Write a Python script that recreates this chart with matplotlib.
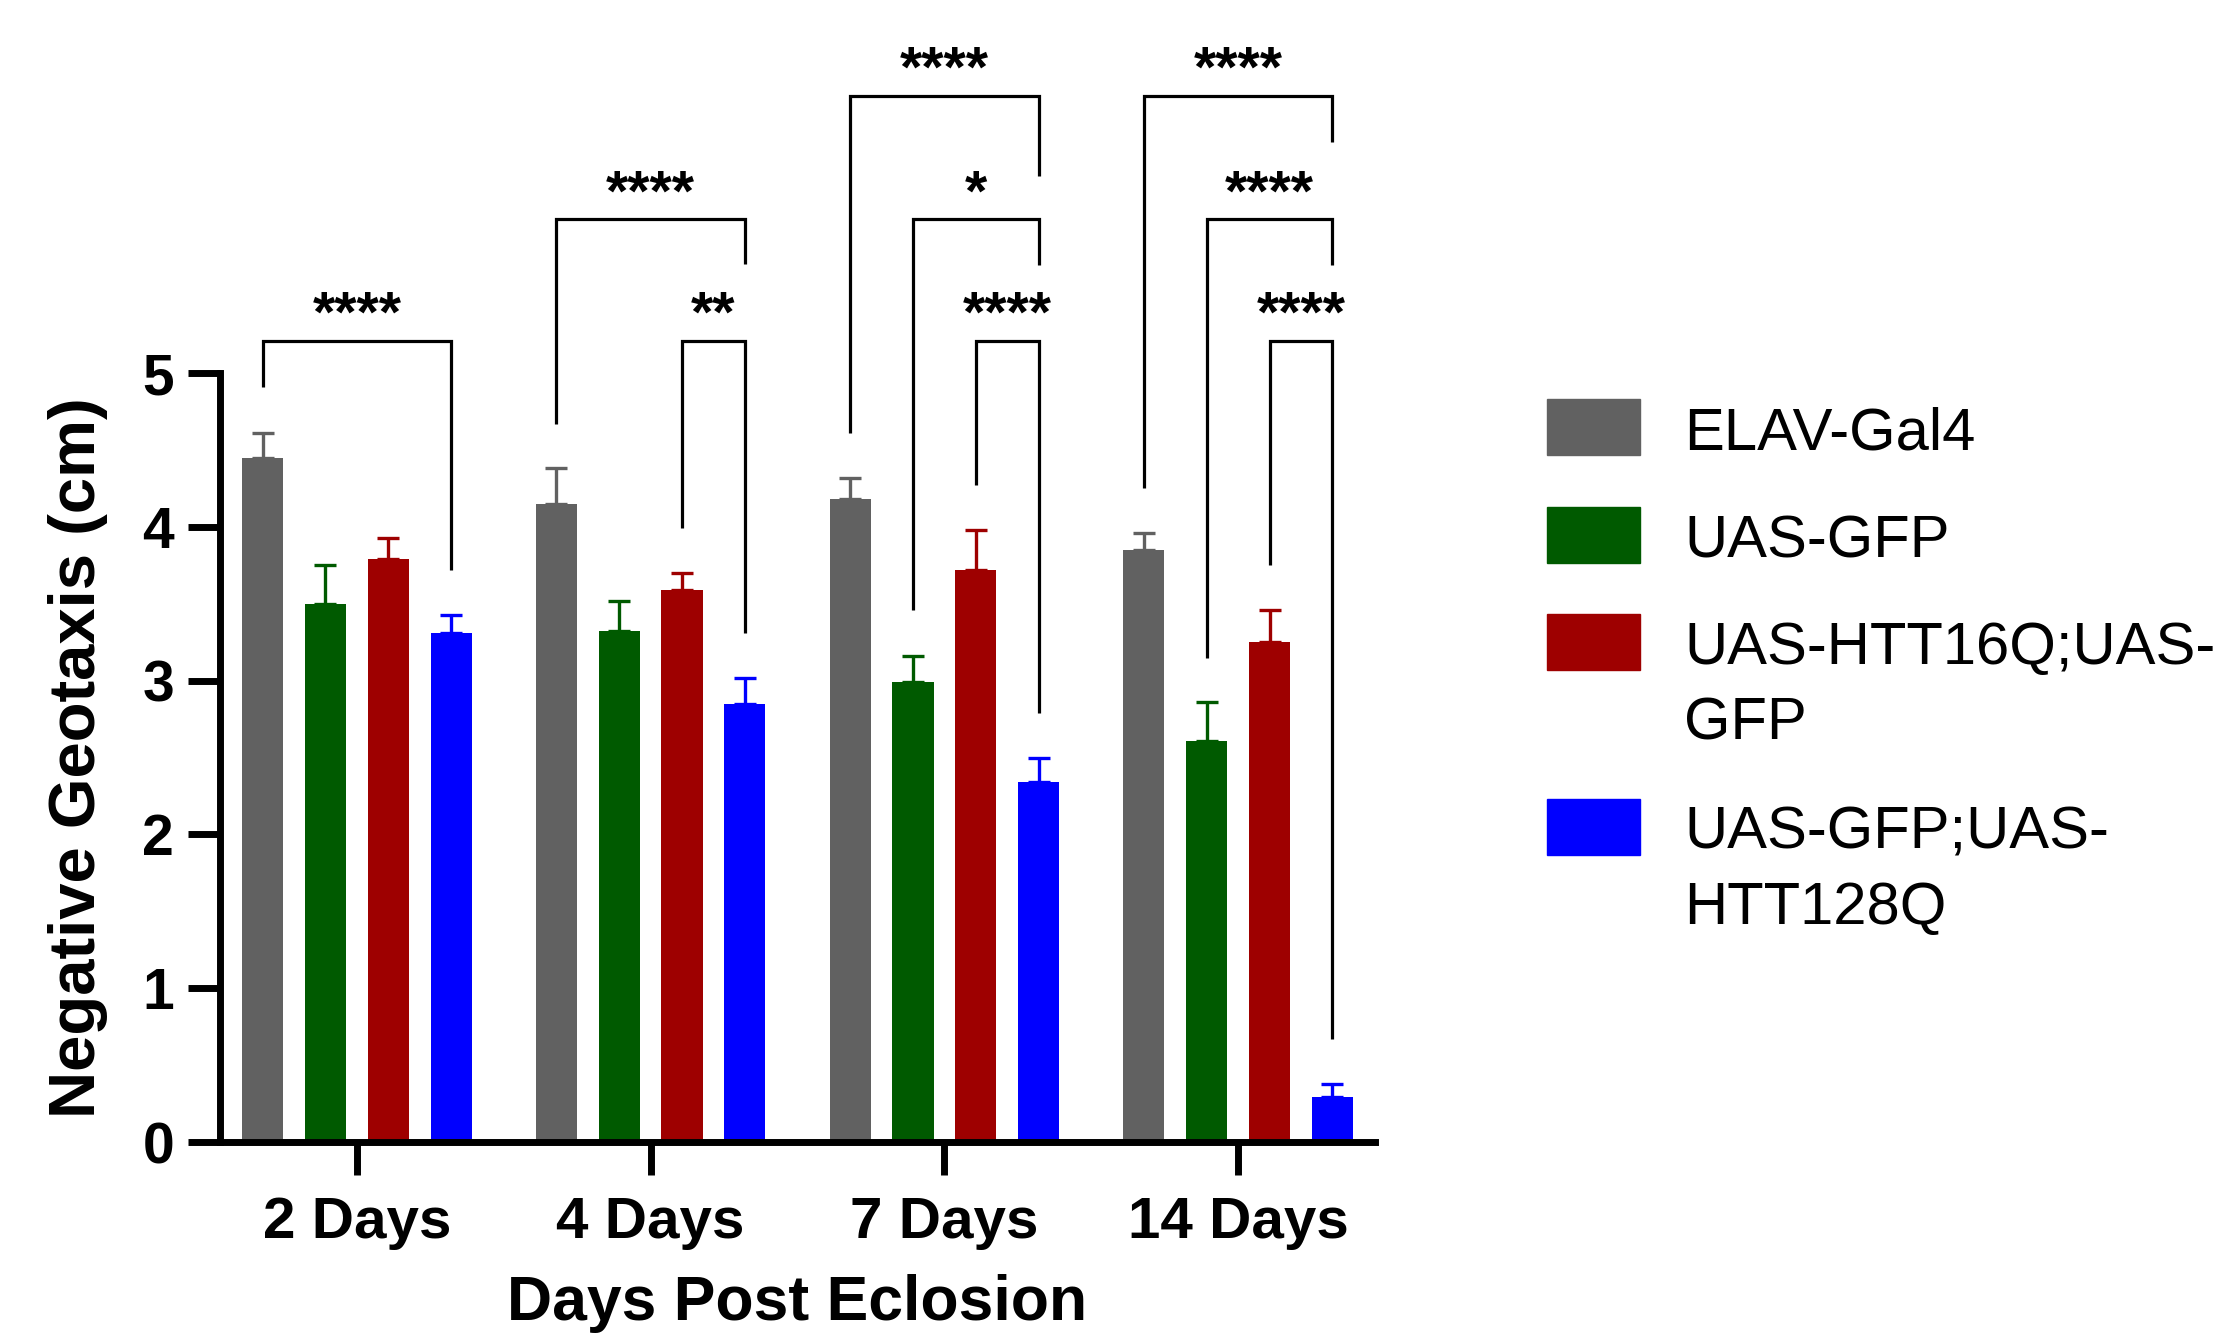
import numpy as np
import matplotlib
matplotlib.use("Agg")
import matplotlib.pyplot as plt
from matplotlib.patches import Rectangle

plt.rcParams['font.family'] = ['Liberation Sans', 'DejaVu Sans']

# data
days = ["2 Days", "4 Days", "7 Days", "14 Days"]
genotypes = ["ELAV-Gal4", "UAS-GFP", "UAS-HTT16Q;UAS-\nGFP", "UAS-GFP;UAS-\nHTT128Q"]
colors = ["#616161", "#005A00", "#9E0000", "#0000FF"]

elav = [4.45, 4.15, 4.18, 3.85]
gfp = [3.50, 3.32, 2.99, 2.61]
htt16q = [3.79, 3.59, 3.72, 3.25]
htt128q = [3.31, 2.85, 2.34, 0.29]

elav_err = [0.16, 0.23, 0.14, 0.11]
gfp_err = [0.25, 0.20, 0.17, 0.25]
htt16q_err = [0.14, 0.11, 0.26, 0.21]
htt128q_err = [0.12, 0.17, 0.16, 0.09]

means = [elav, gfp, htt16q, htt128q]
errs = [elav_err, gfp_err, htt16q_err, htt128q_err]

# significance brackets: group, bar a, bar b, line level, left leg end, right leg end, label
brackets = [
    (0, 0, 3, 5.21, 4.91, 3.72, "****"),
    (1, 0, 3, 6.00, 4.67, 5.71, "****"),
    (1, 2, 3, 5.21, 3.99, 3.31, "**"),
    (2, 0, 3, 6.80, 4.61, 6.28, "****"),
    (2, 1, 3, 6.00, 3.46, 5.70, "*"),
    (2, 2, 3, 5.21, 4.27, 2.79, "****"),
    (3, 0, 3, 6.80, 4.25, 6.50, "****"),
    (3, 1, 3, 6.00, 3.15, 5.70, "****"),
    (3, 2, 3, 5.21, 3.75, 0.67, "****"),
]

W, H = 2239, 1336
fig = plt.figure(figsize=(W / 100, H / 100), dpi=100)
ax = fig.add_axes([220 / W, 194 / H, 1155 / W, 1138 / H])

groups = np.arange(len(days))
step = 0.214
width = 0.14
offsets = (np.arange(4) - 1.5) * step

for i in range(4):
    x = groups + offsets[i]
    ax.bar(x, means[i], width=width, color=colors[i], zorder=2)
    ax.errorbar(x, means[i], yerr=[np.zeros(4), errs[i]], fmt='none',
                ecolor=colors[i], elinewidth=2.4, capsize=8, capthick=2.4, zorder=1)

for g, a, b, y, la, lb, s in brackets:
    xa = g + offsets[a]
    xb = g + offsets[b]
    ax.plot([xa, xa, xb, xb], [la, y, y, lb], color='black', lw=2.3,
            solid_joinstyle='miter', solid_capstyle='butt', zorder=3)
    ax.text((xa + xb) / 2, y + 0.06, s, ha='center', va='baseline',
            fontsize=41, fontweight='bold')

ax.set_xlim(-0.466, 3.466)
ax.set_ylim(0, 7.4)
ax.set_yticks([0, 1, 2, 3, 4, 5])
ax.set_xticks(groups)
ax.set_xticklabels(days)

for side in ['top', 'right']:
    ax.spines[side].set_visible(False)
for side in ['left', 'bottom']:
    ax.spines[side].set_linewidth(5)
ax.spines['left'].set_bounds(0, 5)

ax.tick_params(axis='y', length=23, width=5, pad=10, labelsize=41)
ax.tick_params(axis='x', length=24, width=5, pad=15, labelsize=42)
for lab in ax.get_xticklabels() + ax.get_yticklabels():
    lab.set_fontweight('bold')

ax.set_xlabel("Days Post Eclosion", fontsize=45, fontweight='bold', labelpad=17)
ax.set_ylabel("Negative Geotaxis (cm)", fontsize=47, fontweight='bold',
              ha='center', va='center')
ax.yaxis.set_label_coords(-0.123, 2.5 / 7.4)

# legend, patch lined up with the first line of each label
patch_tops = [399, 507, 614, 799]
line_gap = 75
for top, lab, c in zip(patch_tops, genotypes, colors):
    fig.add_artist(Rectangle((1547 / W, 1 - (top + 56) / H), 93 / W, 56 / H,
                             transform=fig.transFigure, color=c))
    for k, line in enumerate(lab.split("\n")):
        base = top + 28 + 22 + k * line_gap
        fig.text(1684 / W, 1 - base / H, line, fontsize=43,
                 ha='left', va='baseline')

fig.savefig("out.png", dpi=100)
